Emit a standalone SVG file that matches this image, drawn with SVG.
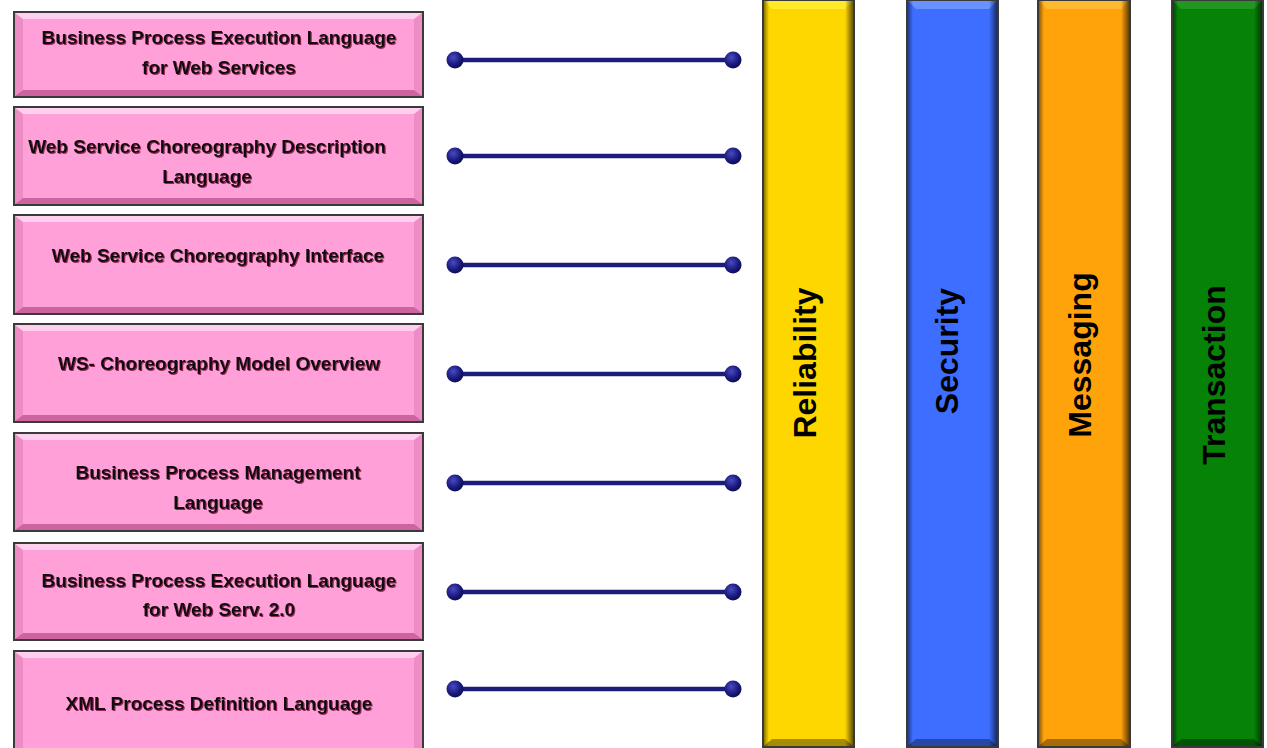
<svg xmlns="http://www.w3.org/2000/svg" width="1267" height="748" viewBox="0 0 1267 748">
  <defs>
    <style>
      .box { fill: #ffa0d8; stroke: #3a3a3a; stroke-width: 2; }
      .hi { fill: #ffd0ee; }
      .lo { fill: #b84a88; opacity: 0.7; }
      .side { fill: #c8609c; opacity: 0.3; }
      .lbl { font-family: "Liberation Sans", Arial, sans-serif; font-weight: bold; font-size: 19px; fill: #111; text-anchor: middle; filter: url(#txtShadow); }
      .col { stroke: #3a3a3a; stroke-width: 2; }
      .colhi { opacity: 0.55; }
      .colsh { fill: #000; opacity: 0.35; }
      .vlbl { font-family: "Liberation Sans", Arial, sans-serif; font-weight: bold; font-size: 32px; fill: #000; text-anchor: middle; }
      .link { stroke: #1c1c7a; stroke-width: 4.5; stroke-linecap: round; }
      .knob { fill: url(#knobGrad); }
    </style>
    <filter id="txtShadow" x="-5%" y="-30%" width="110%" height="160%">
      <feDropShadow dx="1" dy="1" stdDeviation="0.4" flood-color="#8a1848" flood-opacity="0.9"/>
    </filter>
    <radialGradient id="knobGrad" cx="0.4" cy="0.35" r="0.7">
      <stop offset="0" stop-color="#4a4ac0"/>
      <stop offset="0.6" stop-color="#1a1a80"/>
      <stop offset="1" stop-color="#0a0a48"/>
    </radialGradient>
    <linearGradient id="edgeR" x1="0" y1="0" x2="1" y2="0">
      <stop offset="0" stop-color="#000" stop-opacity="0"/>
      <stop offset="1" stop-color="#000" stop-opacity="0.6"/>
    </linearGradient>
    <linearGradient id="edgeL" x1="0" y1="0" x2="1" y2="0">
      <stop offset="0" stop-color="#000" stop-opacity="0.45"/>
      <stop offset="1" stop-color="#000" stop-opacity="0"/>
    </linearGradient>
  </defs>

  <rect width="1267" height="748" fill="#fff"/>

  <!-- stacked specification boxes -->
  <g id="bpel4ws">
    <rect class="box" x="14" y="12" width="409" height="85"/>
    <polygon class="hi" points="15,13 422,13 414,19 23,19"/>
    <polygon class="lo" points="15,96 422,96 414,90 23,90"/>
    <polygon class="side" points="15,13 23,19 23,90 15,96"/>
    <polygon class="side" points="422,13 414,19 414,90 422,96"/>
    <text class="lbl" x="219" y="44">Business Process Execution Language</text>
    <text class="lbl" x="219" y="74">for Web Services</text>
  </g>
  <g id="wscdl">
    <rect class="box" x="14" y="107" width="409" height="98"/>
    <polygon class="hi" points="15,108 422,108 414,114 23,114"/>
    <polygon class="lo" points="15,204 422,204 414,198 23,198"/>
    <polygon class="side" points="15,108 23,114 23,198 15,204"/>
    <polygon class="side" points="422,108 414,114 414,198 422,204"/>
    <text class="lbl" x="207" y="153">Web Service Choreography Description</text>
    <text class="lbl" x="207" y="183">Language</text>
  </g>
  <g id="wsci">
    <rect class="box" x="14" y="215" width="409" height="99"/>
    <polygon class="hi" points="15,216 422,216 414,222 23,222"/>
    <polygon class="lo" points="15,313 422,313 414,307 23,307"/>
    <polygon class="side" points="15,216 23,222 23,307 15,313"/>
    <polygon class="side" points="422,216 414,222 414,307 422,313"/>
    <text class="lbl" x="218" y="262">Web Service Choreography Interface</text>
  </g>
  <g id="ws-choreography">
    <rect class="box" x="14" y="324" width="409" height="98"/>
    <polygon class="hi" points="15,325 422,325 414,331 23,331"/>
    <polygon class="lo" points="15,421 422,421 414,415 23,415"/>
    <polygon class="side" points="15,325 23,331 23,415 15,421"/>
    <polygon class="side" points="422,325 414,331 414,415 422,421"/>
    <text class="lbl" x="219" y="370">WS- Choreography Model Overview</text>
  </g>
  <g id="bpml">
    <rect class="box" x="14" y="433" width="409" height="98"/>
    <polygon class="hi" points="15,434 422,434 414,440 23,440"/>
    <polygon class="lo" points="15,530 422,530 414,524 23,524"/>
    <polygon class="side" points="15,434 23,440 23,524 15,530"/>
    <polygon class="side" points="422,434 414,440 414,524 422,530"/>
    <text class="lbl" x="218" y="479">Business Process Management</text>
    <text class="lbl" x="218" y="509">Language</text>
  </g>
  <g id="wsbpel2">
    <rect class="box" x="14" y="543" width="409" height="97"/>
    <polygon class="hi" points="15,544 422,544 414,550 23,550"/>
    <polygon class="lo" points="15,639 422,639 414,633 23,633"/>
    <polygon class="side" points="15,544 23,550 23,633 15,639"/>
    <polygon class="side" points="422,544 414,550 414,633 422,639"/>
    <text class="lbl" x="219" y="587">Business Process Execution Language</text>
    <text class="lbl" x="219" y="616">for Web Serv. 2.0</text>
  </g>
  <g id="xpdl">
    <rect class="box" x="14" y="651" width="409" height="100"/>
    <polygon class="hi" points="15,652 422,652 414,658 23,658"/>
    <polygon class="side" points="15,652 23,658 23,750 15,750"/>
    <polygon class="side" points="422,652 414,658 414,750 422,750"/>
    <text class="lbl" x="219" y="710">XML Process Definition Language</text>
  </g>

  <!-- vertical capability columns -->
  <g id="reliability">
    <rect class="col" x="763" y="0" width="91" height="747" fill="#ffd700"/>
    <polygon class="colhi" points="764,1 853,1 845,9 772,9" fill="#fff84a"/>
    <rect x="845" y="1" width="8" height="745" fill="url(#edgeR)"/>
    <rect x="764" y="1" width="5" height="745" fill="url(#edgeL)"/>
    <polygon class="colsh" points="764,746 853,746 845,739 772,739"/>
    <text class="vlbl" transform="translate(816,363) rotate(-90)">Reliability</text>
  </g>
  <g id="security">
    <rect class="col" x="907" y="0" width="91" height="747" fill="#3d6eff"/>
    <polygon class="colhi" points="908,1 997,1 989,9 916,9" fill="#8ab0ff"/>
    <rect x="989" y="1" width="8" height="745" fill="url(#edgeR)"/>
    <rect x="908" y="1" width="5" height="745" fill="url(#edgeL)"/>
    <polygon class="colsh" points="908,746 997,746 989,739 916,739"/>
    <text class="vlbl" transform="translate(958,351) rotate(-90)">Security</text>
  </g>
  <g id="messaging">
    <rect class="col" x="1038" y="0" width="92" height="747" fill="#ffa30a"/>
    <polygon class="colhi" points="1039,1 1129,1 1121,9 1047,9" fill="#ffcc50"/>
    <rect x="1121" y="1" width="8" height="745" fill="url(#edgeR)"/>
    <rect x="1039" y="1" width="5" height="745" fill="url(#edgeL)"/>
    <polygon class="colsh" points="1039,746 1129,746 1121,739 1047,739"/>
    <text class="vlbl" transform="translate(1091,355) rotate(-90)">Messaging</text>
  </g>
  <g id="transaction">
    <rect class="col" x="1172" y="0" width="91" height="747" fill="#068206"/>
    <polygon class="colhi" points="1173,1 1262,1 1254,9 1181,9" fill="#3aa83a"/>
    <rect x="1254" y="1" width="8" height="745" fill="url(#edgeR)"/>
    <rect x="1173" y="1" width="5" height="745" fill="url(#edgeL)"/>
    <polygon class="colsh" points="1173,746 1262,746 1254,739 1181,739"/>
    <text class="vlbl" transform="translate(1225,375) rotate(-90)">Transaction</text>
  </g>

  <!-- dumbbell connectors between boxes and columns -->
  <g id="connectors">
    <line class="link" x1="455" y1="60" x2="733" y2="60"/>
    <circle class="knob" cx="455" cy="60" r="8.5"/>
    <circle class="knob" cx="733" cy="60" r="8.5"/>
    <line class="link" x1="455" y1="156" x2="733" y2="156"/>
    <circle class="knob" cx="455" cy="156" r="8.5"/>
    <circle class="knob" cx="733" cy="156" r="8.5"/>
    <line class="link" x1="455" y1="265" x2="733" y2="265"/>
    <circle class="knob" cx="455" cy="265" r="8.5"/>
    <circle class="knob" cx="733" cy="265" r="8.5"/>
    <line class="link" x1="455" y1="374" x2="733" y2="374"/>
    <circle class="knob" cx="455" cy="374" r="8.5"/>
    <circle class="knob" cx="733" cy="374" r="8.5"/>
    <line class="link" x1="455" y1="483" x2="733" y2="483"/>
    <circle class="knob" cx="455" cy="483" r="8.5"/>
    <circle class="knob" cx="733" cy="483" r="8.5"/>
    <line class="link" x1="455" y1="592" x2="733" y2="592"/>
    <circle class="knob" cx="455" cy="592" r="8.5"/>
    <circle class="knob" cx="733" cy="592" r="8.5"/>
    <line class="link" x1="455" y1="689" x2="733" y2="689"/>
    <circle class="knob" cx="455" cy="689" r="8.5"/>
    <circle class="knob" cx="733" cy="689" r="8.5"/>
  </g>
</svg>
